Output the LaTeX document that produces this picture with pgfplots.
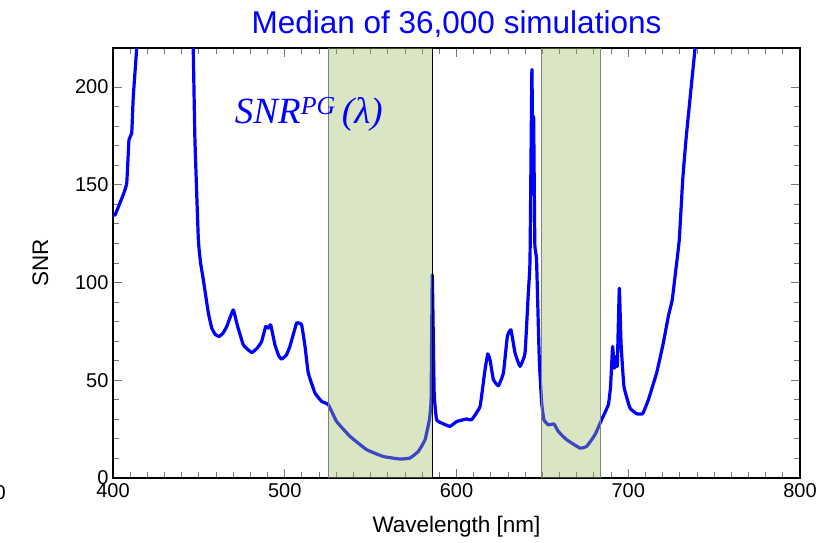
\documentclass[border=0pt]{standalone}
\usepackage{pgfplots}
\pgfplotsset{compat=1.18}
\usepackage{fontspec}
\setmainfont{Liberation Sans}
\newfontfamily\serifit{Liberation Serif}
\definecolor{bandfill}{RGB}{156,187,99}
\definecolor{tickgray}{RGB}{120,120,120}
\begin{document}
\begin{tikzpicture}[x=1pt,y=1pt]
\useasboundingbox (-113,-64) rectangle (709,478);
\begin{axis}[
  at={(0,0)}, anchor=south west,
  width=687pt, height=430pt, scale only axis,
  xmin=400, xmax=800, ymin=0, ymax=220,
  xtick={400,500,600,700,800},
  ytick={0,50,100,150,200},
  minor x tick num=9, minor y tick num=4,
  tick align=inside,
  major tick length=9pt, minor tick length=6pt,
  every tick/.style={tickgray, line width=0.9pt},
  axis line style={black, line width=2pt},
  tick label style={font=\fontsize{20}{20}\selectfont},
  /pgf/number format/assume math mode=true,
  /pgf/number format/1000 sep={},
  xticklabel style={yshift=-2pt},
  yticklabel style={xshift=-1pt},
  xlabel={Wavelength [nm]}, ylabel={SNR},
  label style={font=\fontsize{22.5}{22.5}\selectfont},
  xlabel style={yshift=-12pt},
  ylabel style={yshift=20pt},
  title={Median of 36,000 simulations},
  title style={font=\fontsize{31.5}{31.5}\selectfont, text=blue, yshift=1pt},
  clip=true,
]
\addplot[blue, line width=3.2pt, line join=round, smooth, tension=0.2] coordinates {
(400,134.6)(401.2,134.6)(404,140.6)(406,145)(408,150.8)(409.3,173)(410.9,176.4)(411.8,195)(413.8,220)(414.8,240)
(445.7,240)(446.7,220)(447.7,173)(449.7,121.9)(451,110)(452.6,101.4)(455.5,84.5)
(457.5,76.7)(459.5,73.5)(461.7,72.4)(464,74)(466.2,77.5)(470,86)(472.3,78.4)(475.9,68.1)(480.7,64.2)
(484,66.5)(486.5,69.8)(488.9,77.5)(490.4,76.7)(491.8,78.4)(494.3,68.1)(496.5,62.5)(498.2,60.8)(501,63)(503,67.3)
(506.9,79.2)(509.8,78.4)(511.8,67.3)(513.7,53.7)(517.6,43.5)(521.5,39.2)(525.4,37.5)
(530.2,28.9)(538,21.3)(547.7,14.5)(557.4,11)(567.1,9.7)(572.9,10.2)(577.8,13.6)
(581.7,19.6)(584.2,29.8)(585.2,40)(585.9,104)(587,43.5)(588.4,29.8)(591.4,28.1)
(596.2,26.4)(600.1,28.9)(605.9,30.2)(608.8,29.8)(613.7,36.6)(616.6,55.4)(618.2,63.5)
(619.5,60.5)(621.5,50.3)(624.4,47.2)(627.3,53.7)(629.6,72.4)(631.7,75.8)(634.1,63.9)
(637,57.1)(639.9,63.9)(641.8,94.6)(642.8,111.6)(643.9,209)(644.5,150)(644.9,185)
(645.6,120)(646.6,111.7)(648.2,60.5)(649.6,38.3)(650.9,29.8)(653.4,27.2)(656.8,27.6)
(659.3,23.8)(664.1,19.6)(671.9,15.3)(675.8,16.2)(680.6,22.1)(684.5,29.8)(688.4,37.5)
(689.7,46.8)(690.9,67.3)(691.9,56.2)(692.9,62.2)(693.6,57)(694.8,97.1)(695.8,69)
(697.5,46.8)(701,35.8)(704.9,32.9)(708.4,32.9)(711.7,40)(716.5,53.7)(720.4,69)
(723.3,82.6)(725.6,91.2)(727.5,105)(729.7,121.8)(731.7,152.5)(733.6,173)(735.9,193.5)(738.9,220)(740.5,240)
};
\addplot[fill=bandfill, fill opacity=0.384, draw=none] coordinates {(525.7,0)(525.7,220)(585.7,220)(585.7,0)} \closedcycle;
\addplot[fill=bandfill, fill opacity=0.384, draw=none] coordinates {(649.7,0)(649.7,220)(684,220)(684,0)} \closedcycle;
\addplot[gray, line width=1pt] coordinates {(525.7,0)(525.7,220)};
\addplot[black, line width=0.8pt] coordinates {(585.7,0)(585.7,220)};
\addplot[gray, line width=1pt] coordinates {(649.7,0)(649.7,220)};
\addplot[gray, line width=1pt] coordinates {(684,0)(684,220)};
\node[text=blue, font=\serifit\itshape\fontsize{37}{37}\selectfont] at (axis cs:514,186) {SNR\textsuperscript{PG}\,(\textit{λ})};
\end{axis}
\node[anchor=east, font=\fontsize{20}{20}\selectfont, inner sep=0pt] at (-107,-15) {300};
\end{tikzpicture}
\end{document}
